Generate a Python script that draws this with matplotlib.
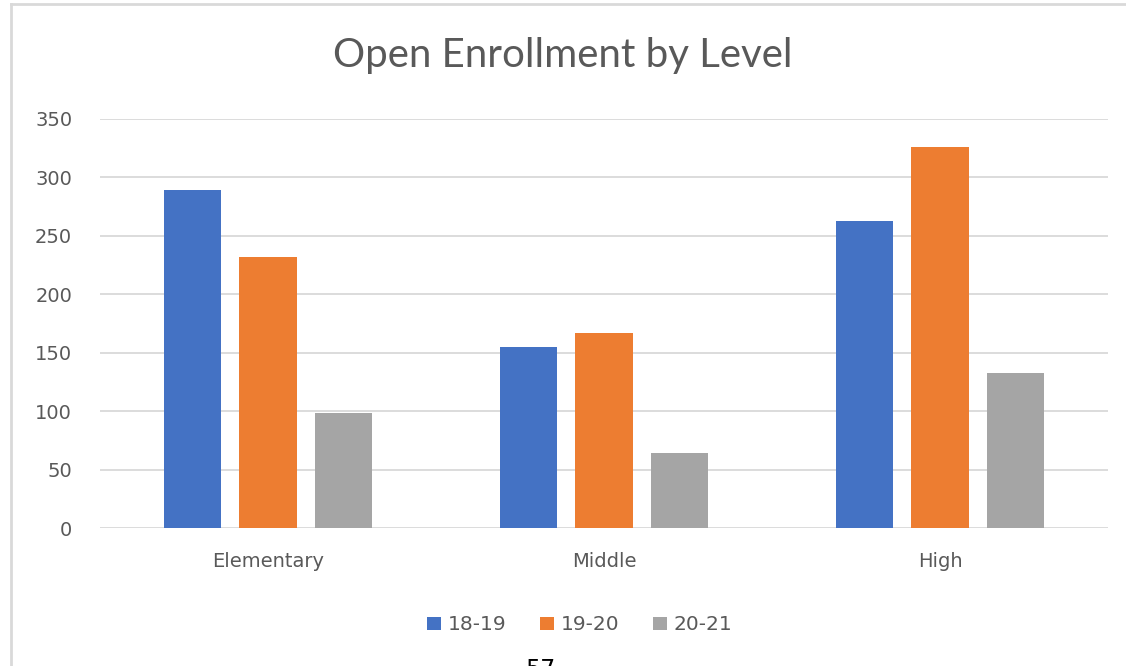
import numpy as np
import matplotlib.pyplot as plt

levels = ['Elementary', 'Middle', 'High']
years = ['18-19', '19-20', '20-21']
v_1819 = [289, 155, 263]
v_1920 = [232, 167, 326]
v_2021 = [98, 64, 133]
colors = ['#4472C4', '#ED7D31', '#A5A5A5']

plt.rcParams['font.family'] = ['DejaVu Sans']

fig = plt.figure(figsize=(11.26, 6.66), dpi=100)
ax = fig.add_axes([100 / 1126, 1 - 528 / 666, 1008 / 1126, 409 / 666])

x = np.arange(len(levels))
w = 0.17
step = 0.224
for i, (vals, c, lab) in enumerate(zip([v_1819, v_1920, v_2021], colors, years)):
    ax.bar(x + (i - 1) * step, vals, width=w, color=c, label=lab, zorder=3)

ax.set_xlim(-0.5, 2.5)
ax.set_ylim(0, 350)
ax.set_yticks(np.arange(0, 351, 50))
ax.set_xticks(x)
ax.set_xticklabels(levels)
ax.grid(axis='y', color='#d9d9d9', lw=1.3, zorder=0)
for s in ax.spines.values():
    s.set_visible(False)
ax.tick_params(length=0, labelsize=14, labelcolor='#595959')
ax.tick_params(axis='y', pad=20)
ax.tick_params(axis='x', pad=17)

fig.text(0.5, 1 - 56 / 666, 'Open Enrollment by Level', ha='center', va='center',
         fontsize=29, color='#595959', family=['Lato', 'DejaVu Sans'])

leg = fig.legend(loc='center', bbox_to_anchor=(0.515, 1 - 625 / 666), ncol=3, frameon=False,
                 fontsize=14.5, handlelength=0.65, handleheight=0.65, handletextpad=0.35,
                 columnspacing=1.7)
for t in leg.get_texts():
    t.set_color('#595959')

# chart border (only top and left visible in the crop)
fig.add_artist(plt.Line2D([11 / 1126, 11 / 1126], [0, 1 - 4 / 666], transform=fig.transFigure,
                          color='#d9d9d9', lw=2))
fig.add_artist(plt.Line2D([11 / 1126, 1], [1 - 4 / 666, 1 - 4 / 666], transform=fig.transFigure,
                          color='#d9d9d9', lw=2))

# page number, cut off by the bottom edge as in the screenshot
fig.text(0.466, -0.006, '57', ha='left', va='center', fontsize=17, color='black')

fig.savefig('out.png', dpi=100)
